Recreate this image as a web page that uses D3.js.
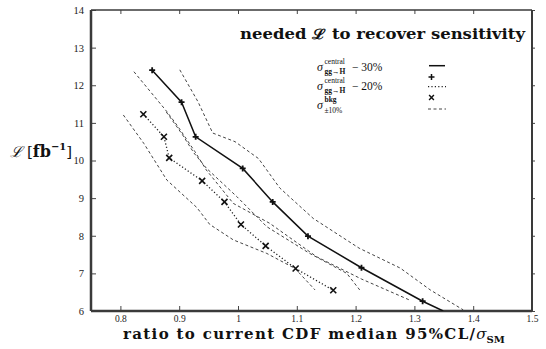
<!DOCTYPE html>
<meta charset="utf-8">
<style>
body { margin: 0; background: #fff; }
svg { display: block; }
.tick line { stroke: #444; stroke-width: 1; }
.tick text { font-family: "Liberation Serif", serif; font-size: 10.5px; fill: #222; }
.xt .tick text { font-size: 9.5px; }
</style>
<body>
<script src="https://cdn.jsdelivr.net/npm/d3@7"></script>
<script>

// axis ticks
var xTicks = [0.8, 0.9, 1.0, 1.1, 1.2, 1.3, 1.4, 1.5];
var xTickLabels = ["0.8", "0.9", "1", "1.1", "1.2", "1.3", "1.4", "1.5"];
var yTicks = [6, 7, 8, 9, 10, 11, 12, 13, 14];

// sigma central - 30% (solid, + markers)
var solidX = [0.854, 0.904, 0.928, 1.008, 1.059, 1.119, 1.210, 1.314];
var solidL = [12.40, 11.55, 10.63, 9.79, 8.90, 7.99, 7.15, 6.26];
var solidEndX = 1.349, solidEndL = 6.0;

// sigma central - 20% (dotted, x markers)
var crossX = [0.839, 0.874, 0.883, 0.939, 0.977, 1.005, 1.047, 1.098, 1.162];
var crossL = [11.23, 10.63, 10.07, 9.46, 8.90, 8.30, 7.73, 7.13, 6.55];

// bkg +-10% bands (dashed)
var bandUpX = [0.901, 0.932, 0.957, 0.995, 1.035, 1.071, 1.128, 1.206, 1.276, 1.327, 1.383];
var bandUpL = [12.41, 11.56, 10.73, 10.50, 10.05, 9.27, 8.46, 7.67, 7.14, 6.56, 6.03];
var bandLoX = [0.823, 0.879, 0.898, 0.927, 0.946, 0.992, 1.054, 1.134, 1.210, 1.292];
var bandLoL = [12.36, 11.30, 10.90, 10.23, 9.75, 8.86, 8.33, 7.44, 6.85, 6.29];
var band2UpX = [0.878, 0.905, 0.925, 0.946, 0.998, 1.049, 1.122, 1.185, 1.207];
var band2UpL = [11.29, 10.70, 10.20, 9.80, 9.04, 8.24, 7.53, 7.00, 6.56];
var band2LoX = [0.805, 0.840, 0.879, 0.930, 0.952, 0.992, 1.049, 1.097, 1.131];
var band2LoL = [11.21, 10.45, 9.48, 8.75, 8.30, 7.89, 7.53, 7.13, 6.56];

var width = 546, height = 349;
var plotL = 91, plotR = 532, plotT = 10, plotB = 311;

var svg = d3.select("body").append("svg")
    .attr("width", width)
    .attr("height", height);

var x = d3.scaleLinear().domain([0.75, 1.5]).range([plotL, plotR]);
var y = d3.scaleLinear().domain([6, 14]).range([plotB, plotT]);

function zip(a, b) { return a.map(function(d, i) { return [d, b[i]]; }); }

svg.append("clipPath").attr("id", "plot")
  .append("rect")
    .attr("x", plotL).attr("y", plotT)
    .attr("width", plotR - plotL).attr("height", plotB - plotT);

// axes
var gx = svg.append("g")
    .attr("class", "xt")
    .attr("transform", "translate(0," + plotB + ")")
    .call(d3.axisBottom(x).tickValues(xTicks).tickSize(-5).tickPadding(4)
      .tickFormat(function(d, i) { return xTickLabels[i]; }));
gx.select(".domain").remove();

var gt = svg.append("g")
    .attr("transform", "translate(0," + plotT + ")")
    .call(d3.axisTop(x).tickValues(xTicks).tickSize(-4).tickFormat(""));
gt.select(".domain").remove();

var gy = svg.append("g")
    .attr("transform", "translate(" + plotL + ",0)")
    .call(d3.axisLeft(y).tickValues(yTicks).tickSize(-5).tickPadding(7));
gy.select(".domain").remove();

var gr = svg.append("g")
    .attr("transform", "translate(" + plotR + ",0)")
    .call(d3.axisRight(y).tickValues(yTicks).tickSize(3).tickFormat(""));
gr.select(".domain").remove();

// frame
var frame = svg.append("g").attr("stroke", "#3a3a3a");
frame.append("line").attr("x1", plotL).attr("x2", plotR).attr("y1", plotT).attr("y2", plotT).attr("stroke-width", 1.5);
frame.append("line").attr("x1", plotR).attr("x2", plotR).attr("y1", plotT).attr("y2", plotB).attr("stroke-width", 2);
frame.append("line").attr("x1", plotL).attr("x2", plotR).attr("y1", plotB).attr("y2", plotB).attr("stroke-width", 2.5);
frame.append("line").attr("x1", plotL).attr("x2", plotL).attr("y1", plotT).attr("y2", plotB).attr("stroke-width", 2.5);

var line = d3.line()
    .x(function(d) { return x(d[0]); })
    .y(function(d) { return y(d[1]); });

var plot = svg.append("g").attr("clip-path", "url(#plot)");

[[bandUpX, bandUpL], [bandLoX, bandLoL], [band2UpX, band2UpL], [band2LoX, band2LoL]].forEach(function(b) {
  plot.append("path")
      .attr("d", line(zip(b[0], b[1])))
      .attr("fill", "none")
      .attr("stroke", "#444")
      .attr("stroke-width", 1)
      .attr("stroke-dasharray", "3,2.5");
});

plot.append("path")
    .attr("d", line(zip(crossX, crossL)))
    .attr("fill", "none")
    .attr("stroke", "#222")
    .attr("stroke-width", 1.3)
    .attr("stroke-dasharray", "1.2,2.2");

plot.append("path")
    .attr("d", line(zip(solidX.concat([solidEndX]), solidL.concat([solidEndL]))))
    .attr("fill", "none")
    .attr("stroke", "#111")
    .attr("stroke-width", 1.5);

var plusPath = "M-3,0H3M0,-3V3";
var timesPath = "M-3,-3L3,3M-3,3L3,-3";

plot.selectAll(".plus")
    .data(zip(solidX, solidL))
    .enter().append("path")
      .attr("class", "plus")
      .attr("d", plusPath)
      .attr("transform", function(d) { return "translate(" + x(d[0]) + "," + y(d[1]) + ")"; })
      .attr("stroke", "#111")
      .attr("stroke-width", 1.8);

plot.selectAll(".times")
    .data(zip(crossX, crossL))
    .enter().append("path")
      .attr("class", "times")
      .attr("d", timesPath)
      .attr("transform", function(d) { return "translate(" + x(d[0]) + "," + y(d[1]) + ")"; })
      .attr("stroke", "#111")
      .attr("stroke-width", 1.6);

// title
svg.append("text")
    .attr("x", 240).attr("y", 39)
    .attr("font-family", "DejaVu Serif").attr("font-weight", "bold")
    .attr("font-size", 14)
    .attr("textLength", 285).attr("lengthAdjust", "spacingAndGlyphs")
    .attr("fill", "#111")
    .text("needed \u2112 to recover sensitivity");

// legend
var lg = svg.append("g").attr("font-family", "Liberation Serif").attr("fill", "#111");

function sigma(xp, yb, sup, sub, rest, supBold, subBold, subDy) {
  lg.append("text").attr("x", xp).attr("y", yb).attr("font-size", 12)
    .attr("font-style", "italic").text("\u03c3");
  lg.append("text").attr("x", xp + 7.5).attr("y", yb - 7).attr("font-size", 7.5)
    .attr("font-weight", supBold ? "bold" : "normal").text(sup);
  lg.append("text").attr("x", xp + 7.5).attr("y", yb + subDy).attr("font-size", 7.5)
    .attr("font-weight", subBold ? "bold" : "normal").text(sub);
  if (rest) lg.append("text").attr("x", xp + 35).attr("y", yb).attr("font-size", 11.5).text(rest);
}

sigma(317, 70.5, "central", "gg\u2192H", "\u2212 30%", false, true, 3.5);
sigma(317, 90, "central", "gg\u2192H", "\u2212 20%", false, true, 2.5);
sigma(317, 108.5, "bkg", "\u00b110%", null, true, false, 4.5);

lg.append("line").attr("x1", 429).attr("x2", 445).attr("y1", 65.7).attr("y2", 65.7)
    .attr("stroke", "#111").attr("stroke-width", 1.5);
lg.append("path").attr("d", plusPath).attr("transform", "translate(431.5,77)")
    .attr("stroke", "#111").attr("stroke-width", 1.5);
lg.append("line").attr("x1", 428).attr("x2", 446).attr("y1", 86.7).attr("y2", 86.7)
    .attr("stroke", "#222").attr("stroke-width", 1.2).attr("stroke-dasharray", "1.2,2.2");
lg.append("path").attr("d", timesPath).attr("transform", "translate(431.5,97.5) scale(0.8)")
    .attr("stroke", "#111").attr("stroke-width", 1.8);
lg.append("line").attr("x1", 428).attr("x2", 446).attr("y1", 109).attr("y2", 109)
    .attr("stroke", "#444").attr("stroke-width", 1).attr("stroke-dasharray", "3,2.5");

// y axis label
var yl = svg.append("text")
    .attr("x", 10).attr("y", 157)
    .attr("font-family", "DejaVu Serif").attr("font-size", 15).attr("fill", "#111");
yl.append("tspan").attr("font-style", "italic").text("\u2112");
yl.append("tspan").attr("dx", 5).text("[");
yl.append("tspan").attr("font-weight", "bold").attr("font-size", 16).text("fb");
yl.append("tspan").attr("font-weight", "bold").attr("font-size", 10).attr("dy", -7).text("\u22121");
yl.append("tspan").attr("dy", 7).text("]");

// x axis label
var xl = svg.append("text")
    .attr("x", 123).attr("y", 339)
    .attr("font-family", "DejaVu Serif").attr("font-size", 15).attr("fill", "#111");
xl.append("tspan").attr("font-weight", "bold")
    .attr("textLength", 352).attr("lengthAdjust", "spacing")
    .text("ratio to current CDF median 95%CL/");
xl.append("tspan").attr("font-style", "italic").text("\u03c3");
xl.append("tspan").attr("font-weight", "bold").attr("font-size", 10).attr("dy", 4).text("SM");

</script>
</body>
